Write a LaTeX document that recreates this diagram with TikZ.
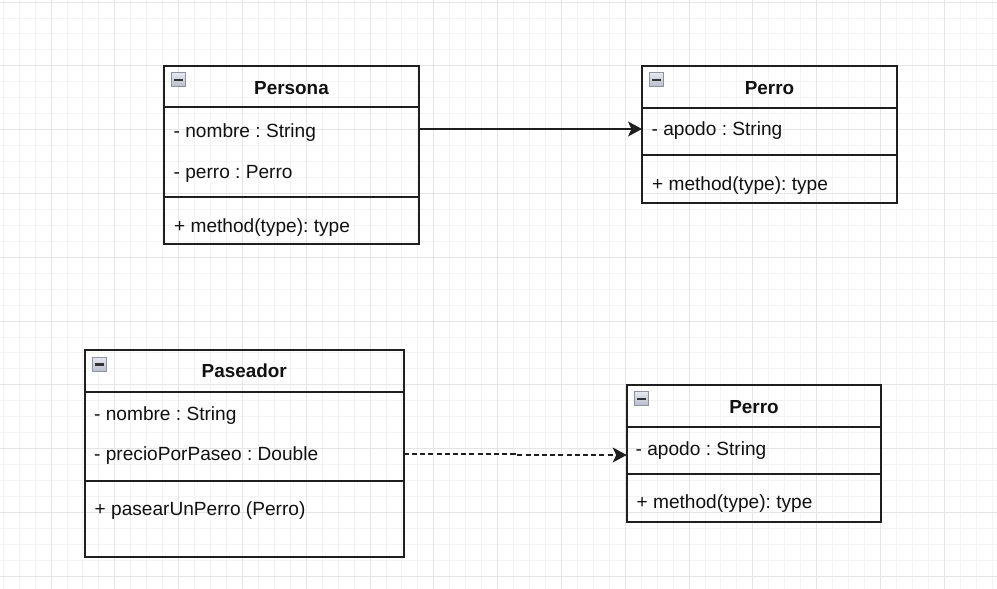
\documentclass[tikz,border=0pt]{standalone}
\usepackage{fontspec}
\setmainfont{Liberation Sans}
\frenchspacing
\usetikzlibrary{arrows.meta,calc}
\definecolor{gridminor}{HTML}{F3F3F3}
\definecolor{gridmajor}{HTML}{E5E5E5}
\definecolor{linec}{HTML}{1F1F1F}
\definecolor{textc}{HTML}{111111}
\definecolor{icontop}{HTML}{E6E8EE}
\definecolor{iconbot}{HTML}{B8BCC8}
\definecolor{iconedge}{HTML}{8E93A1}
\begin{document}
\begin{tikzpicture}[x=1pt,y=-1pt,
  comp/.style={draw=linec, line width=1.7pt, anchor=north west, inner sep=0pt, outer sep=0pt},
  ttl/.style={font=\bfseries\fontsize{18.9}{22}\selectfont, text=textc, anchor=center, inner sep=0pt, text height=13.6pt, text depth=0pt},
  row/.style={font=\fontsize{19.1}{22}\selectfont, text=textc, anchor=west, inner sep=0pt, text height=13.6pt, text depth=0pt},
  iconbox/.style={draw=iconedge, line width=1pt, top color=icontop, bottom color=iconbot,
    minimum width=14pt, minimum height=14pt, inner sep=0pt, anchor=north west,
    path picture={\draw[line width=2.2pt, color=black!80]
      ([xshift=-4.5pt]path picture bounding box.center) -- ([xshift=4.5pt]path picture bounding box.center);}},
  assoc/.style={draw=linec, line width=1.6pt, -{Stealth[length=14pt,width=15pt,inset=3.5pt]}},
  dep/.style={draw=linec, line width=1.6pt, dash pattern=on 5pt off 3.2pt, -{Stealth[length=14pt,width=15pt,inset=3.5pt]}}
]
\useasboundingbox (0,0) rectangle (997,589);
\fill[white] (0,0) rectangle (997,589);
% grid
\foreach \i in {0,...,62} \draw[gridminor, line width=0.9pt] ({3.15+15.95*\i},0) -- ++(0,589);
\foreach \i in {0,...,36} \draw[gridminor, line width=0.9pt] (0,{2+15.95*\i}) -- ++(997,0);
\foreach \i in {0,...,14} \draw[gridmajor, line width=0.9pt] ({51+63.8*\i},0) -- ++(0,589);
\foreach \i in {0,...,9} \draw[gridmajor, line width=0.9pt] (0,{2+63.8*\i}) -- ++(997,0);

% ---- Persona ----
\node[comp, minimum width=255pt, minimum height=41.3pt] (perHead) at (164,66) {};
\node[comp, minimum width=255pt, minimum height=89.4pt] (perAttr) at (164,107.3) {};
\node[comp, minimum width=255pt, minimum height=47.6pt] (perMeth) at (164,196.7) {};
\node[iconbox] (perIcon) at ($(perHead.north west)+(7,6.3)$) {};
\node[ttl] (perTitle) at (291.5,87.7) {Persona};
\node[row] (perNombre) at (173.5,130.2) {- nombre : String};
\node[row] (perPerro) at (173.5,171.7) {- perro : Perro};
\node[row] (perMethod) at (174,225.2) {+ method(type): type};

% ---- Perro (top) ----
\node[comp, minimum width=255pt, minimum height=41.7pt] (p1Head) at (642,66) {};
\node[comp, minimum width=255pt, minimum height=47.6pt] (p1Attr) at (642,107.7) {};
\node[comp, minimum width=255pt, minimum height=47.4pt] (p1Meth) at (642,155.3) {};
\node[iconbox] (p1Icon) at ($(p1Head.north west)+(7,6.3)$) {};
\node[ttl] (p1Title) at (769.5,87.7) {Perro};
\node[row] (p1Apodo) at (651.5,129) {- apodo : String};
\node[row] (p1Method) at (652,183.2) {+ method(type): type};

% ---- Paseador ----
\node[comp, minimum width=319pt, minimum height=41.7pt] (pasHead) at (84.7,350) {};
\node[comp, minimum width=319pt, minimum height=89pt] (pasAttr) at (84.7,391.7) {};
\node[comp, minimum width=319pt, minimum height=76pt] (pasMeth) at (84.7,480.7) {};
\node[iconbox] (pasIcon) at ($(pasHead.north west)+(7,7)$) {};
\node[ttl] (pasTitle) at (244.2,370.5) {Paseador};
\node[row] (pasNombre) at (94,413.2) {- nombre : String};
\node[row] (pasPrecio) at (94,453.9) {- precioPorPaseo : Double};
\node[row] (pasPasear) at (94.5,508.9) {+ pasearUnPerro (Perro)};

% ---- Perro (bottom) ----
\node[comp, minimum width=254.5pt, minimum height=41.7pt] (p2Head) at (626.7,385) {};
\node[comp, minimum width=254.5pt, minimum height=47.6pt] (p2Attr) at (626.7,426.7) {};
\node[comp, minimum width=254.5pt, minimum height=47.4pt] (p2Meth) at (626.7,474.3) {};
\node[iconbox] (p2Icon) at ($(p2Head.north west)+(7,6.3)$) {};
\node[ttl] (p2Title) at (754,406.5) {Perro};
\node[row] (p2Apodo) at (635.5,448.2) {- apodo : String};
\node[row] (p2Method) at (636.5,501.5) {+ method(type): type};

% ---- connectors ----
\draw[assoc] (perAttr.east |- p1Apodo.west) -- (p1Attr.west |- p1Apodo.west);
\coordinate (jog) at (515,455);
\draw[dep] (pasAttr.east |- pasPrecio.west) -| (jog) -- (p2Attr.west |- jog);
\end{tikzpicture}
\end{document}
